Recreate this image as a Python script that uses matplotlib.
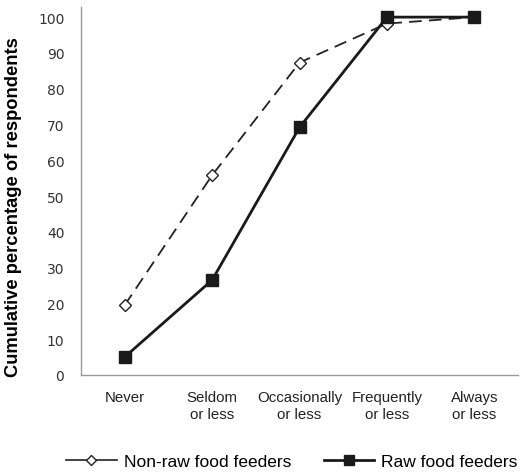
import matplotlib
matplotlib.use("Agg")
import matplotlib.pyplot as plt
from matplotlib.lines import Line2D

categories = ["Never", "Seldom\nor less", "Occasionally\nor less", "Frequently\nor less", "Always\nor less"]
non_raw = [19.5, 55.8, 87.3, 98.2, 100]
raw = [5.0, 26.5, 69.2, 100, 100]
yticks = [0, 10, 20, 30, 40, 50, 60, 70, 80, 90, 100]

fig = plt.figure(figsize=(5.26, 4.77), dpi=100)
ax = fig.add_axes([0.154, 0.212, 0.831, 0.771])
x = list(range(len(categories)))
ax.plot(x, non_raw, color="#222222", lw=1.3, dashes=(7, 4), marker="D", ms=6,
        mfc="white", mec="#222222", mew=1.0, label="Non-raw food feeders", zorder=2)
ax.plot(x, raw, color="#1a1a1a", lw=2.0, marker="s", ms=8.5, mfc="#1a1a1a",
        mec="#1a1a1a", label="Raw food feeders", zorder=3)
ax.set_xlim(-0.5, 4.5)
ax.set_ylim(0, 102.8)
ax.set_yticks(yticks)
ax.set_yticklabels([str(v) for v in yticks], fontsize=10, color="#333333", family="DejaVu Sans")
ax.set_xticks(x)
ax.set_xticklabels(categories, fontsize=10.8, color="#222222", family="Liberation Sans", linespacing=1.25)
ax.tick_params(axis="both", length=0, pad=11)
ax.tick_params(axis="y", pad=12)
for s in ["top", "right"]:
    ax.spines[s].set_visible(False)
for s in ["left", "bottom"]:
    ax.spines[s].set_color("#999999")
    ax.spines[s].set_linewidth(1.0)
ax.set_ylabel("Cumulative percentage of respondents", fontsize=13.2, fontweight="bold",
              family="Liberation Sans", labelpad=12)
ax.yaxis.set_label_coords(-0.135, 0.46)

h1 = Line2D([], [], color="#222222", lw=1.2, marker="D", ms=5, mfc="white", mec="#222222")
h2 = Line2D([], [], color="#1a1a1a", lw=2.0, marker="s", ms=7, mfc="#1a1a1a")
fig.legend([h1, h2], ["Non-raw food feeders", "Raw food feeders"], loc="center",
           bbox_to_anchor=(0.555, 0.03), ncol=2, frameon=False,
           prop={"family": "Liberation Sans", "size": 12.5}, handlelength=2.9,
           columnspacing=1.9, handletextpad=0.4)
fig.savefig("out.png", dpi=100)
